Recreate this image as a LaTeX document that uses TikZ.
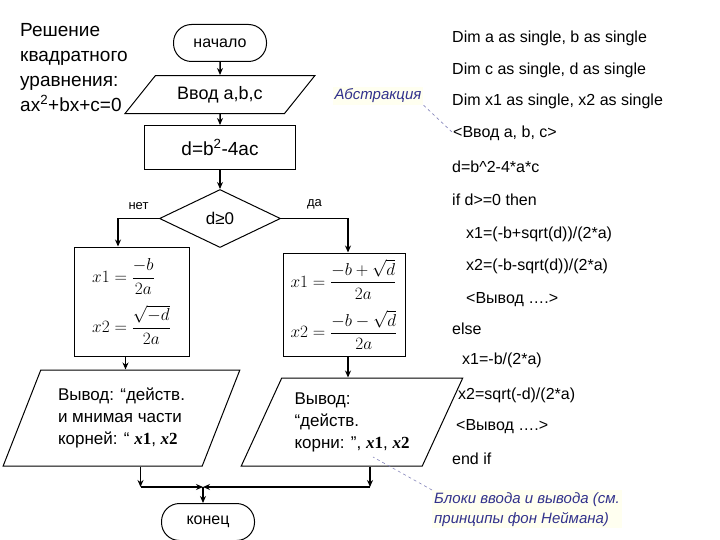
\documentclass[tikz,border=0pt]{standalone}
\usepackage{amsmath}
\usepackage{fontspec}
\setmainfont{Liberation Sans}
\newfontfamily\serif{Liberation Serif}
\usepackage{xcolor}
\usepackage{tikz}
\usetikzlibrary{shapes.geometric, arrows.meta, positioning, calc}

\definecolor{notecol}{RGB}{50,50,140}
\definecolor{notebg}{RGB}{255,255,240}
\newcommand{\xroot}[1]{{\serif\bfseries\itshape x\/\upshape #1}}

\begin{document}
\begin{tikzpicture}[
    x=1pt, y=-1pt,
    node distance=13pt,
    every node/.style={font=\fontsize{16}{19}\selectfont},
    terminal/.style={rectangle, draw, line width=1pt, rounded corners=18pt, minimum width=93pt, minimum height=37pt},
    io/.style={trapezium, draw, line width=1pt, trapezium stretches=true, align=left},
    process/.style={rectangle, draw, line width=1pt, align=left},
    decision/.style={diamond, draw, line width=1pt, minimum width=121pt, minimum height=58pt, inner sep=0pt},
    arrow/.style={-{Stealth[length=7pt,width=6pt]}, line width=1.5pt},
    code/.style={anchor=west, inner sep=0pt},
    note/.style={font=\fontsize{15}{20}\selectfont\itshape, text=notecol, fill=notebg, align=left, inner sep=2pt},
    callout/.style={dashed, line width=0.6pt, draw=notecol!60}
]
\useasboundingbox (0,0) rectangle (720,540);

% title
\node[anchor=north west, align=left, inner sep=0pt, font=\fontsize{19}{25}\selectfont] (title) at (20,23)
    {Решение\\квадратного\\уравнения:\\ax\textsuperscript{2}+bx+c=0};

% flowchart
\node[terminal] (start) at (220,43) {начало};
\node[io, trapezium left angle=47, trapezium right angle=133, minimum width=190pt, minimum height=38pt, below=13pt of start, font=\fontsize{18}{20}\selectfont] (input) {Ввод a,b,c};
\node[process, minimum width=151pt, minimum height=44pt, below=11pt of input, font=\fontsize{19}{20}\selectfont] (calc) {d=b\textsuperscript{2}-4ac};
\node[decision, below=19pt of calc, font=\fontsize{17}{20}\selectfont] (check) {d≥0};

\node[process, minimum width=115pt, minimum height=109pt, font=\fontsize{19}{22}\selectfont] (lbox) at (131.5,301.5)
    {$\displaystyle x1=\frac{-b}{2a}$\\[10pt]$\displaystyle x2=\frac{\sqrt{-d}}{2a}$};
\node[process, minimum width=122pt, minimum height=103pt, inner sep=0pt, font=\fontsize{19}{22}\selectfont] (rbox) at (344,304.5)
    {$\displaystyle x1=\frac{-b+\sqrt{d}}{2a}$\\[10pt]$\displaystyle x2=\frac{-b-\sqrt{d}}{2a}$};

\node[io, trapezium left angle=65, trapezium right angle=115, minimum width=237pt, minimum height=96pt, font=\fontsize{17}{22}\selectfont] (lout) at (121.5,418)
    {Вывод: “действ.\\и мнимая части\\корней: “ \xroot{1}, \xroot{2}};
\node[io, trapezium left angle=62, trapezium right angle=118, minimum width=222pt, minimum height=88pt, font=\fontsize{17}{22}\selectfont] (rout) at (352,422)
    {Вывод:\\“действ.\\корни: ”, \xroot{1}, \xroot{2}};

\node[terminal] (finish) at (208,522) {конец};
\coordinate (join) at (203,487);

\draw[arrow] (start) -- (input);
\draw[arrow] (input) -- (calc);
\draw[arrow] (calc) -- (check);
\draw[arrow] (check.west) -| node[pos=0.25, above=5pt, font=\fontsize{13}{15}\selectfont]{нет} ([xshift=-13.5pt]lbox.north);
\draw[arrow] (check.east) -| node[pos=0.25, above=5pt, font=\fontsize{13}{15}\selectfont]{да} ([xshift=4pt]rbox.north);
\draw[arrow] ([xshift=-6pt]lbox.south) -- ([xshift=-6pt]lbox.south |- lout.north);
\draw[arrow] ([xshift=4pt]rbox.south) -- ([xshift=4pt]rbox.south |- rout.north);
\draw[arrow] ([xshift=19pt]lout.south) -- ([xshift=19pt]lout.south |- join);
\draw[arrow] ([xshift=19pt]lout.south |- join) -- (join);
\draw[arrow] ([xshift=18pt]rout.south) -- ([xshift=18pt]rout.south |- join);
\draw[arrow] ([xshift=18pt]rout.south |- join) -- (join);
\draw[arrow] (join) -- (join |- finish.north);

% program text
\node[code] (dimab) at (452,38) {Dim a as single, b as single};
\node[code] (dimcd) at (452,70) {Dim c as single, d as single};
\node[code] (dimx) at (452,101) {Dim x1 as single, x2 as single};
\node[code] (codein) at (453,133) {<Ввод a, b, c>};
\node[code] (codecalc) at (452,167) {d=b\^{}2-4*a*c};
\node[code] (codeif) at (452,200) {if d>=0 then};
\node[code] (codexa) at (466,234) {x1=(-b+sqrt(d))/(2*a)};
\node[code] (codexb) at (466,266) {x2=(-b-sqrt(d))/(2*a)};
\node[code] (codeouta) at (466,300) {<Вывод ….>};
\node[code] (codeelse) at (452,329) {else};
\node[code] (codexc) at (462,360) {x1=-b/(2*a)};
\node[code] (codexd) at (458,395) {x2=sqrt(-d)/(2*a)};
\node[code] (codeoutb) at (456,427) {<Вывод ….>};
\node[code] (codeend) at (452,459) {end if};

% notes
\node[note] (abstr) at (378,96) {Абстракция};
\draw[callout] (abstr.south east) -- (codein.west);
\node[note, anchor=north west] (ionote) at (432,490) {Блоки ввода и вывода (см.\\принципы фон Неймана)};
\coordinate (ioptr) at (373,457);
\draw[callout] (ionote.north west) -- (ioptr);
\end{tikzpicture}
\end{document}
